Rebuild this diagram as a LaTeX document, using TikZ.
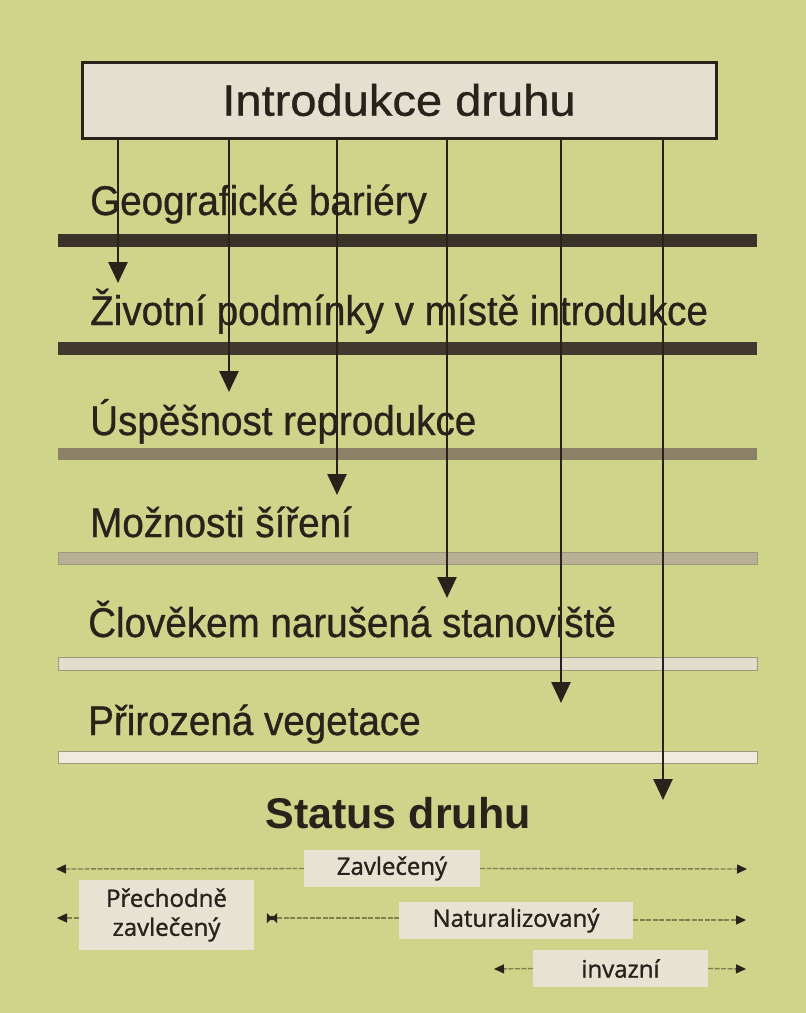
\documentclass[tikz,border=0pt]{standalone}
\usepackage{fontspec}
\usetikzlibrary{arrows.meta}
\setmainfont{Liberation Sans}
\newfontfamily\titlefam{Liberation Sans}[FakeStretch=1.07,FakeBold=0.7]
\newfontfamily\labfam{Liberation Sans}[FakeStretch=0.93,FakeBold=0.7]
\newfontfamily\boxfam{Open Sans}[FakeBold=1.3]
\definecolor{bgcol}{RGB}{206,212,138}
\definecolor{inkcol}{RGB}{40,34,27}
\definecolor{boxfill}{RGB}{228,224,207}
\definecolor{smallbox}{RGB}{231,227,211}
\definecolor{barA}{RGB}{58,50,41}
\definecolor{barB}{RGB}{66,57,46}
\definecolor{barC}{RGB}{140,129,102}
\definecolor{barD}{RGB}{184,176,148}
\definecolor{barE}{RGB}{225,221,204}
\definecolor{barF}{RGB}{238,235,222}
\definecolor{barEdge}{RGB}{160,152,122}
\definecolor{rowcol}{RGB}{128,130,78}
\tikzset{
  titlebox/.style={draw=inkcol, line width=3pt, fill=boxfill, minimum width=634pt, minimum height=76pt, inner sep=0pt, text=inkcol, font=\titlefam\fontsize{44}{50}\selectfont},
  lab/.style={anchor=base west, inner sep=0pt, text=inkcol, font=\labfam\fontsize{41.5}{48}\selectfont},
  statlab/.style={anchor=base, inner sep=0pt, text=inkcol, font=\bfseries\fontsize{43}{50}\selectfont},
  sbox/.style={fill=smallbox, inner sep=0pt, text=inkcol, align=center, font=\boxfam\fontsize{24}{29}\selectfont},
  varrow/.style={draw=inkcol, line width=2.6pt, -{Triangle[length=21pt,width=19pt,color=inkcol]}},
  rowline/.style={draw=rowcol, line width=1.4pt, dash pattern=on 5pt off 1.5pt},
  rowtip/.style={rowline, -{Triangle[length=10pt,width=9pt,color=inkcol]}},
  marker/.style={inner sep=0pt, minimum size=10pt}
}
\begin{document}
\begin{tikzpicture}[x=1pt,y=-1pt]
\useasboundingbox (0,0) rectangle (806,1013);
\fill[bgcol] (0,0) rectangle (806,1013);
% horizontal barriers
\fill[barA] (58,234) rectangle (757,247);
\fill[barB] (58,342) rectangle (757,355);
\fill[barC] (58,448) rectangle (757,460);
\filldraw[fill=barD, draw=barEdge, line width=0.6pt] (58,552) rectangle (757,564);
\filldraw[fill=barE, draw=barEdge, line width=0.8pt] (58,657) rectangle (757,670);
\filldraw[fill=barF, draw=barEdge, line width=0.8pt] (58,751) rectangle (757,763);
% level labels
\node[lab] (l1) at (90,215) {Geografické bariéry};
\node[lab] (l2) at (90,325) {Životní podmínky v místě introdukce};
\node[lab] (l3) at (90,435) {Úspěšnost reprodukce};
\node[lab] (l4) at (90,537) {Možnosti šíření};
\node[lab] (l5) at (88,637) {Člověkem narušená stanoviště};
\node[lab] (l6) at (88,735) {Přirozená vegetace};
% top box
\node[titlebox] (intro) at (399,100) {Introdukce druhu};
% arrows
\coordinate (t1) at (118,283);
\coordinate (t2) at (229,392);
\coordinate (t3) at (337,495);
\coordinate (t4) at (447,598);
\coordinate (t5) at (561,703);
\coordinate (t6) at (663,800);
\foreach \i in {1,...,6}{\draw[varrow] (intro.south -| t\i) -- (t\i);}
% status
\node[statlab] (st) at (398,828) {Status druhu};
% bottom boxes
\node[sbox, minimum width=176pt, minimum height=37pt] (zav) at (392,868.5) {Zavlečený};
\node[sbox, minimum width=175pt, minimum height=70pt] (pz) at (166.5,915) {Přechodně\\zavlečený};
\node[sbox, minimum width=234pt, minimum height=37pt] (nat) at (516,920.5) {Naturalizovaný};
\node[sbox, minimum width=175pt, minimum height=37pt] (inv) at (620.5,968.5) {invazní};
\coordinate (r1L) at (56,869);
\coordinate (r1R) at (747,869);
\coordinate (r2L) at (57,918);
\coordinate (r2R) at (746,920);
\coordinate (r3L) at (494,969);
\coordinate (r3R) at (746,969);
\draw[rowtip] (zav.west) -- (r1L);
\draw[rowtip] (zav.east) -- (r1R);
\draw[rowtip] (pz.west |- r2L) -- (r2L);
\node[marker] (mk) at (272,918) {};
\fill[inkcol] (mk.north west) -- (mk.center) -- (mk.south west) -- cycle;
\fill[inkcol] (mk.north east) -- (mk.center) -- (mk.south east) -- cycle;
\fill[inkcol] (mk.center) circle (2.2pt);
\draw[rowline] (mk.east) -- (nat.west |- mk);
\draw[rowtip] (nat.east |- r2R) -- (r2R);
\draw[rowtip] (inv.west) -- (r3L);
\draw[rowtip] (inv.east) -- (r3R);
\end{tikzpicture}
\end{document}
